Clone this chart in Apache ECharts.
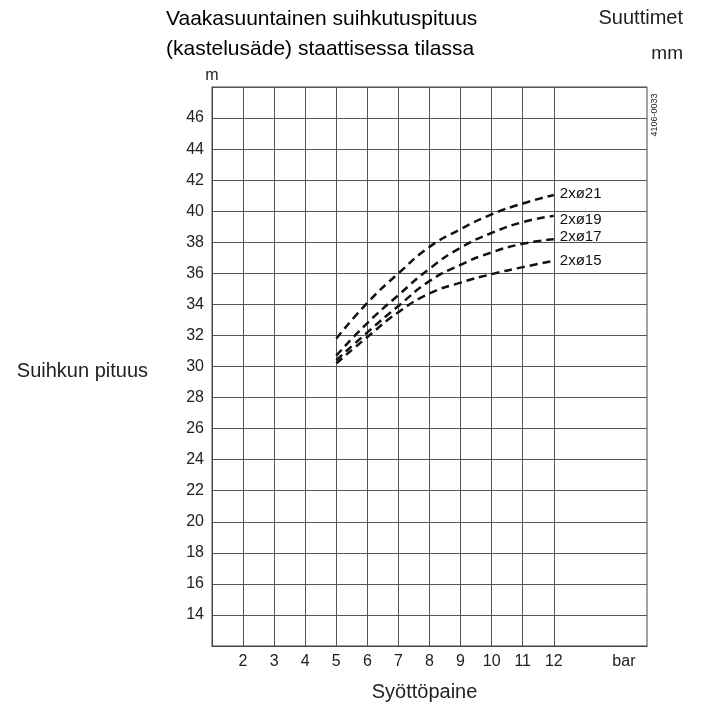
<!DOCTYPE html>
<html>
<head>
<meta charset="utf-8">
<script src="https://cdn.jsdelivr.net/npm/echarts@6/dist/echarts.min.js"></script>
<style>html,body{margin:0;padding:0;background:#fff;}#c{width:707px;height:708px;}</style>
</head>
<body>
<div id="c"></div>
<script>
const xTicks = [2, 3, 4, 5, 6, 7, 8, 9, 10, 11, 12];
const pressure = [5, 6, 7, 8, 9, 10, 11, 12];
const names = ['2xø21', '2xø19', '2xø17', '2xø15'];
const d21 = [31.8, 34.1, 36.0, 37.7, 38.85, 39.8, 40.5, 41.05];
const d19 = [30.7, 32.8, 34.6, 36.3, 37.65, 38.6, 39.3, 39.7];
const d17 = [30.4, 32.2, 33.9, 35.5, 36.55, 37.35, 37.9, 38.2];
const d15 = [30.2, 31.9, 33.5, 34.7, 35.4, 35.95, 36.4, 36.8];
const seriesData = [d21, d19, d17, d15];
const labelOffsets = [[-2, -1], [-2, 4], [-2, -2], [-2, 0]];

const FONT = 'Liberation Sans, Arial, sans-serif';
const chart = echarts.init(document.getElementById('c'));

const series = seriesData.map((d, i) => ({
  name: names[i],
  type: 'line',
  smooth: true,
  symbol: 'none',
  data: pressure.map((p, k) => [p, d[k]]),
  lineStyle: { color: '#111', width: 2.5, type: [8, 5] },
  endLabel: {
    show: true,
    formatter: names[i],
    color: '#111',
    fontSize: 15,
    fontFamily: FONT,
    offset: labelOffsets[i]
  },
  z: 5
}));

series.push({
  type: 'line',
  data: [],
  silent: true,
  markLine: {
    silent: true,
    symbol: 'none',
    label: { show: false },
    lineStyle: { color: '#555', width: 1, type: 'solid' },
    data: xTicks.map(v => ({ xAxis: v }))
  }
});

chart.setOption({
  animation: false,
  backgroundColor: '#fff',
  title: [
    {
      text: 'Vaakasuuntainen suihkutuspituus\n(kastelusäde) staattisessa tilassa',
      left: 161, top: -1,
      textStyle: { fontSize: 21, fontWeight: 'normal', color: '#000', fontFamily: FONT, lineHeight: 30 }
    },
    {
      text: 'Suuttimet',
      right: 19, top: 3,
      textStyle: { fontSize: 20, fontWeight: 'normal', color: '#222', fontFamily: FONT }
    },
    {
      text: 'mm',
      right: 19, top: 39,
      textStyle: { fontSize: 19, fontWeight: 'normal', color: '#222', fontFamily: FONT }
    }
  ],
  grid: {
    left: 212, right: 60, top: 87, bottom: 62,
    show: true, borderColor: '#444', borderWidth: 1, containLabel: false
  },
  xAxis: {
    type: 'value',
    min: 1, max: 15, interval: 1,
    name: 'Syöttöpaine',
    nameLocation: 'middle',
    nameGap: 36,
    nameTextStyle: { fontSize: 20, color: '#222', fontFamily: FONT, padding: [0, 10, 0, 0] },
    axisLine: { show: true, lineStyle: { color: '#444', width: 1 } },
    axisTick: { show: false },
    splitLine: { show: false },
    axisLabel: {
      margin: 8,
      fontSize: 16,
      color: '#222',
      fontFamily: FONT,
      formatter: v => (v === 14 ? '{b|bar}' : (xTicks.indexOf(v) >= 0 ? String(v) : '')),
      rich: { b: { fontSize: 16, color: '#222', fontFamily: FONT, padding: [0, 0, 0, 16] } }
    }
  },
  yAxis: {
    type: 'value',
    min: 12, max: 48, interval: 2,
    name: 'm',
    nameLocation: 'end',
    nameGap: 3,
    nameTextStyle: { fontSize: 16, color: '#222', fontFamily: FONT, align: 'center' },
    axisLine: { show: true, lineStyle: { color: '#444', width: 1 } },
    axisTick: { show: false },
    splitLine: { show: true, lineStyle: { color: '#555', width: 1 } },
    axisLabel: {
      margin: 8,
      fontSize: 16,
      color: '#222',
      fontFamily: FONT,
      formatter: v => (v === 12 || v === 48 ? '' : String(v))
    }
  },
  graphic: [
    {
      type: 'text',
      x: 148, y: 371,
      style: { text: 'Suihkun pituus', fontSize: 20, fill: '#222', fontFamily: FONT, textAlign: 'right', textVerticalAlign: 'middle' }
    },
    {
      type: 'text',
      x: 655, y: 115,
      rotation: Math.PI / 2,
      style: { text: '4106-0033', fontSize: 9, fill: '#222', fontFamily: FONT, textAlign: 'center', textVerticalAlign: 'middle' }
    }
  ],
  series: series
});
</script>
</body>
</html>
